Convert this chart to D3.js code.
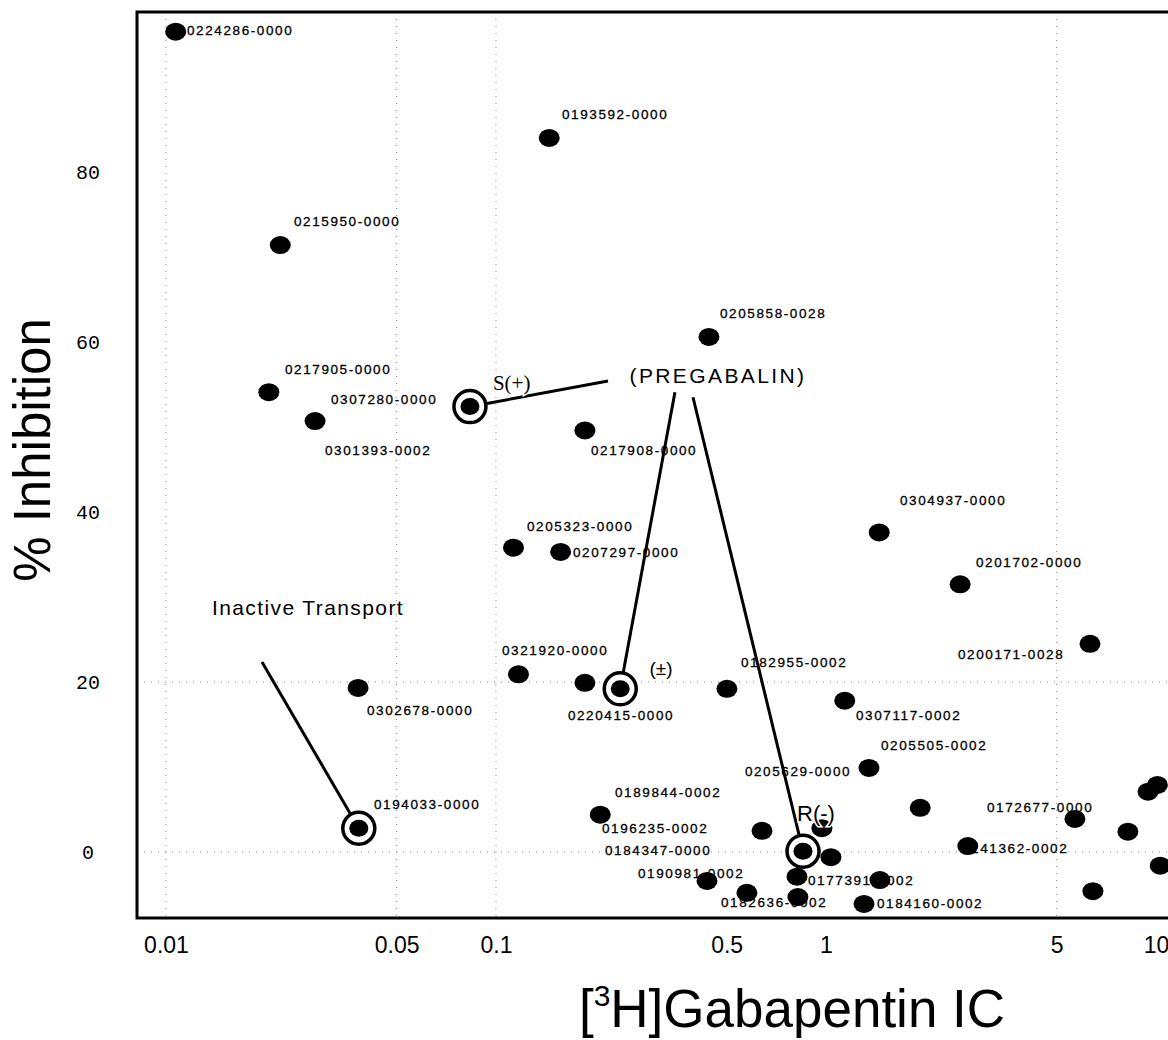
<!DOCTYPE html>
<html><head><meta charset="utf-8">
<script src="https://cdn.jsdelivr.net/npm/d3@7"></script>
<style>body{margin:0;background:#fff}</style>
</head><body><svg id="c" width="1168" height="1040"></svg>
<script>
// ---- data (IC in µM, % inhibition) ----
const pointIC = [0.0107,0.145,0.0222,0.442,0.0205,0.0283,0.186,0.113,0.157,1.45,2.55,6.31,0.117,0.0382,0.186,0.501,1.14,1.35,1.93,0.207,0.640,0.972,1.035,0.436,0.576,0.817,0.822,1.457,1.304,2.69,5.68,6.44,8.22,9.46,10.1,10.3];
const pointInhibition = [96.5,84.0,71.4,60.6,54.1,50.7,49.6,35.8,35.3,37.6,31.5,24.5,20.9,19.3,19.9,19.2,17.8,9.9,5.2,4.4,2.5,2.8,-0.6,-3.4,-4.8,-2.9,-5.3,-3.3,-6.1,0.7,3.9,-4.6,2.4,7.1,7.9,-1.6];
// circled compounds: S(+), (±), R(-) pregabalin, inactive transport
const circledIC = [0.0834,0.238,0.852,0.0384];
const circledInhibition = [52.4,19.2,0.1,2.8];

const labelNames = ["0224286-0000","0193592-0000","0215950-0000","0205858-0028","0217905-0000","0307280-0000","0301393-0002","0217908-0000","0205323-0000","0207297-0000","0304937-0000","0201702-0000","0200171-0028","0321920-0000","0302678-0000","0220415-0000","0182955-0002","0307117-0002","0205505-0002","0205629-0000","0189844-0002","0196235-0002","0184347-0000","0190981-0002","0182636-0002","0177391-0002","0184160-0002","0141362-0002","0172677-0000","0194033-0000"];
const labelIC = [0.01158,0.1585,0.02443,0.4774,0.02294,0.03162,0.03033,0.1940,0.1242,0.1712,1.676,2.848,2.512,0.1043,0.04065,0.1652,0.5527,1.233,1.468,0.568,0.2294,0.2096,0.2140,0.2694,0.4807,0.882,1.427,2.584,3.075,0.04269];
const labelInhibition = [96.5,86.6,74.1,63.2,56.7,53.1,47.1,47.1,38.2,35.1,41.3,34.0,23.1,23.6,16.5,15.9,22.2,16.0,12.4,9.4,6.9,2.7,0.1,-2.6,-6.0,-3.5,-6.2,0.35,5.1,5.5];

const annotationTexts = ["S(+)","(PREGABALIN)","(±)","R(-)","Inactive Transport"];
const annotationIC = [0.0979,0.4708,0.3162,0.817,0.02694];
const annotationInhibition = [54.9,55.8,21.4,4.35,28.5];
const leaderFromIC = [0.2185,0.3486,0.3954,0.01954];
const leaderFromInhibition = [55.4,54.1,53.5,22.35];
const leaderTo = [0,1,2,3];

const xTicks = [0.01,0.05,0.1,0.5,1,5,10];
const yTicks = [0,20,40,60,80];
const xGrid = [0.01,0.05,0.1,5];
const yGrid = [0,20];

// ---- drawing ----
const svg = d3.select("#c");
const x = d3.scaleLog().domain([0.00817,11.42]).range([137,1175]);
const y = d3.scaleLinear().domain([-7.76,98.82]).range([918,12]);
const FONT = "'Liberation Sans', Arial, sans-serif";

const g = svg.append("g");
// grid
g.selectAll(".vg").data(xGrid).join("line")
  .attr("x1",d=>x(d)).attr("x2",d=>x(d)).attr("y1",y.range()[1]).attr("y2",y.range()[0])
  .attr("stroke","#888").attr("stroke-width",1).attr("stroke-dasharray","1,6");
g.selectAll(".hg").data(yGrid).join("line")
  .attr("x1",x.range()[0]).attr("x2",x.range()[1]).attr("y1",d=>y(d)).attr("y2",d=>y(d))
  .attr("stroke","#888").attr("stroke-width",1).attr("stroke-dasharray","1,6");

// frame
svg.append("rect").attr("x",137).attr("y",12).attr("width",1175-137).attr("height",918-12)
  .attr("fill","none").attr("stroke","#000").attr("stroke-width",3);

// axes
const xa = svg.append("g").attr("transform","translate(0,918)")
  .call(d3.axisBottom(x).tickValues(xTicks).tickFormat(d3.format("~g")).tickSize(0).tickPadding(19));
xa.select(".domain").remove();
xa.selectAll("text").attr("font-family",FONT).attr("font-size",23).attr("fill","#000");

const ya = svg.append("g").attr("transform","translate(137,0)")
  .call(d3.axisLeft(y).tickValues(yTicks).tickSize(0));
ya.select(".domain").remove();
ya.selectAll("text").attr("x",-49).attr("text-anchor","middle")
  .attr("font-family","'Liberation Mono','DejaVu Sans Mono',monospace").attr("font-size",20).attr("fill","#000");

// leader lines
const R = 16;
leaderTo.forEach((ci,i)=>{
  const x1 = x(leaderFromIC[i]), y1 = y(leaderFromInhibition[i]);
  const cx = x(circledIC[ci]), cy = y(circledInhibition[ci]);
  const dx = cx-x1, dy = cy-y1, len = Math.hypot(dx,dy);
  svg.append("line").attr("x1",x1).attr("y1",y1)
    .attr("x2",cx-dx/len*R).attr("y2",cy-dy/len*R)
    .attr("stroke","#000").attr("stroke-width",3);
});

// points
svg.append("g").selectAll("ellipse").data(pointIC).join("ellipse")
  .attr("cx",(d)=>x(d)).attr("cy",(d,i)=>y(pointInhibition[i]))
  .attr("rx",10.5).attr("ry",9).attr("fill","#000");

// circled
const cg = svg.append("g");
cg.selectAll("circle").data(circledIC).join("circle")
  .attr("cx",d=>x(d)).attr("cy",(d,i)=>y(circledInhibition[i]))
  .attr("r",R).attr("fill","#fff").attr("stroke","#000").attr("stroke-width",3.5);
cg.selectAll("ellipse").data(circledIC).join("ellipse")
  .attr("cx",d=>x(d)).attr("cy",(d,i)=>y(circledInhibition[i]))
  .attr("rx",9.5).attr("ry",8.5).attr("fill","#000");

// compound labels
svg.append("g").selectAll("text").data(labelNames).join("text")
  .attr("x",(d,i)=>x(labelIC[i])).attr("y",(d,i)=>y(labelInhibition[i]))
  .attr("dominant-baseline","middle")
  .attr("font-family",FONT).attr("font-size",13.5).attr("letter-spacing",1.6)
  .attr("fill","#000").attr("stroke","#000").attr("stroke-width",0.3).text(d=>d);

// annotations
const annStyle = [
  {font:"'Liberation Serif',serif",size:21,anchor:"start",ls:0},
  {font:FONT,size:21,anchor:"middle",ls:2.4},
  {font:FONT,size:19,anchor:"middle",ls:0},
  {font:FONT,size:22,anchor:"start",ls:0},
  {font:FONT,size:21,anchor:"middle",ls:1.4}
];
annotationTexts.forEach((t,i)=>{
  const s = annStyle[i];
  svg.append("text").attr("x",x(annotationIC[i])).attr("y",y(annotationInhibition[i]))
    .attr("dominant-baseline","middle").attr("text-anchor",s.anchor)
    .attr("font-family",s.font).attr("font-size",s.size).attr("letter-spacing",s.ls)
    .attr("fill","#000").attr("paint-order","stroke").attr("stroke","#fff").attr("stroke-width",3)
    .text(t);
});

// axis titles
const xt = svg.append("text").attr("x",792).attr("y",1027).attr("text-anchor","middle")
  .attr("font-family",FONT).attr("font-size",53).attr("fill","#000");
xt.append("tspan").text("[");
xt.append("tspan").attr("font-size",30).attr("dy",-21).text("3");
xt.append("tspan").attr("dy",21).text("H]Gabapentin IC");

svg.append("text").attr("transform","translate(50,450) rotate(-90)").attr("text-anchor","middle")
  .attr("font-family",FONT).attr("font-size",51).attr("fill","#000").text("% Inhibition");
</script></body></html>
